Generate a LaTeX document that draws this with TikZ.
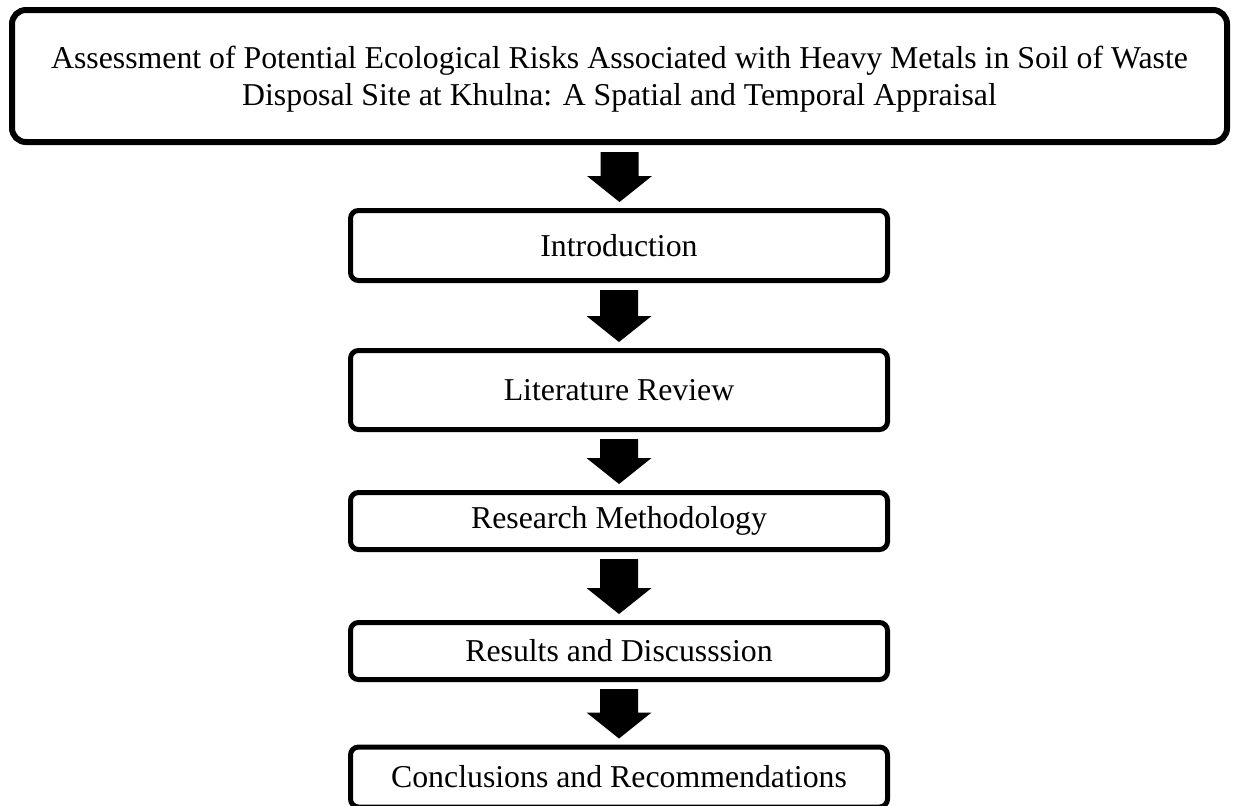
\documentclass[tikz,border=0pt]{standalone}
\usepackage{fontspec}
\setmainfont{Liberation Serif}
\usetikzlibrary{calc}
\tikzset{
  titlebox/.style={draw=black, line width=3pt, rounded corners=7pt, minimum width=607.5pt, minimum height=66pt, align=center, inner sep=0pt, font=\fontsize{15.9}{18.4}\selectfont},
  stepbox/.style={draw=black, line width=2.5pt, rounded corners=4pt, minimum width=268.5pt, inner sep=0pt, font=\fontsize{15.9}{18.4}\selectfont},
  blockarrow/.style={fill=black}
}
\newcommand{\blockarr}[2]{%
  \fill[blockarrow] let \p1=(#1.south), \p2=(#2.north) in
    (\x1-9.5pt,\y1-3.5pt) -- (\x1+9.5pt,\y1-3.5pt) -- (\x1+9.5pt,\y2+16pt)
    -- (\x1+16.25pt,\y2+16pt) -- (\x1,\y2+3pt) -- (\x1-16.25pt,\y2+16pt)
    -- (\x1-9.5pt,\y2+16pt) -- cycle;}
\begin{document}
\begin{tikzpicture}[x=0.5pt,y=-0.5pt]
\useasboundingbox (0,0) rectangle (1235,805);
\node[titlebox] (title) at (619.5,76) {\rule{0pt}{14.3pt}Assessment of Potential Ecological Risks Associated with Heavy Metals in Soil of Waste\\Disposal Site at Khulna: A Spatial and Temporal Appraisal};
\node[stepbox, minimum height=35pt] (intro) at (619,245.5) {Introduction};
\node[stepbox, minimum height=39.5pt] (lit) at (619,390) {Literature Review};
\node[stepbox, minimum height=28.5pt] (meth) at (619,521) {Research Methodology};
\node[stepbox, minimum height=28.5pt] (res) at (619,651) {Results and Discusssion};
\node[stepbox, minimum height=30pt] (conc) at (619,777) {Conclusions and Recommendations};
\blockarr{title}{intro}
\blockarr{intro}{lit}
\blockarr{lit}{meth}
\blockarr{meth}{res}
\blockarr{res}{conc}
\end{tikzpicture}
\end{document}
